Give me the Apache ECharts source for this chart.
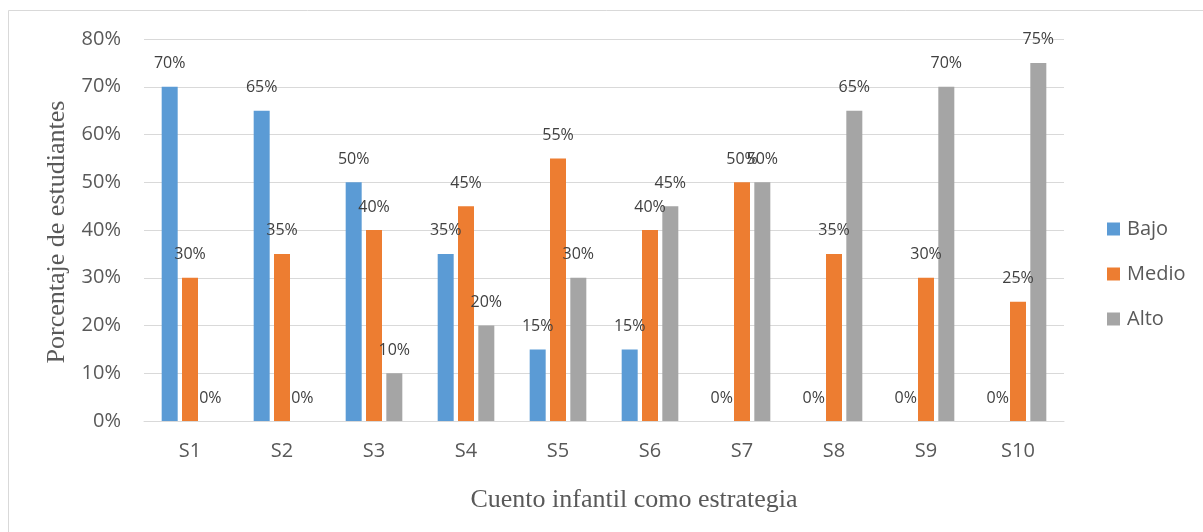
<!DOCTYPE html>
<html>
<head>
<meta charset="utf-8">
<script src="https://cdn.jsdelivr.net/npm/echarts@6/dist/echarts.min.js"></script>
<style>
html,body{margin:0;padding:0;background:#fff;}
#chart{width:1203px;height:532px;}
</style>
</head>
<body>
<div id="chart"></div>
<script>
const categories = ['S1','S2','S3','S4','S5','S6','S7','S8','S9','S10'];
const bajo  = [70, 65, 50, 35, 15, 15, 0, 0, 0, 0];
const medio = [30, 35, 40, 45, 55, 40, 50, 35, 30, 25];
const alto  = [0, 0, 10, 20, 30, 45, 50, 65, 70, 75];
const seriesNames = ['Bajo','Medio','Alto'];
const colors = ['#5B9BD5','#ED7D31','#A5A5A5'];
const yTicks = [0,10,20,30,40,50,60,70,80];
const xTitle = 'Cuento infantil como estrategia';
const yTitle = 'Porcentaje de estudiantes';

const chart = echarts.init(document.getElementById('chart'), null, {renderer:'canvas'});
const sansFont = '"Open Sans", "DejaVu Sans", sans-serif';
const serifFont = '"Liberation Serif", "DejaVu Serif", serif';

function mkSeries(name, data, color){
  return {
    name: name, type: 'bar', data: data,
    barWidth: 16, barGap: '27%',
    itemStyle: {color: color},
    label: {
      show: true, position: 'top', distance: 15,
      formatter: p => p.value + '%',
      fontFamily: sansFont, fontSize: 16, color: '#404040'
    },
    emphasis: {disabled: true}
  };
}

chart.setOption({
  animation: false,
  backgroundColor: '#fff',
  grid: {left: 144, right: 139, top: 39, bottom: 111, containLabel: false},
  legend: {
    orient: 'vertical', left: 1107, top: 219, padding: 0,
    itemWidth: 13, itemHeight: 13, itemGap: 25,
    icon: 'rect',
    data: seriesNames,
    textStyle: {fontFamily: sansFont, fontSize: 20, color: '#595959', lineHeight: 19, padding: [0,0,0,2]}
  },
  xAxis: {
    type: 'category', data: categories,
    axisLine: {lineStyle: {color: '#d9d9d9', width: 1}},
    axisTick: {show: false},
    axisLabel: {fontFamily: sansFont, fontSize: 20, color: '#595959', margin: 20}
  },
  yAxis: {
    type: 'value', min: yTicks[0], max: yTicks[yTicks.length-1], interval: 10,
    axisLine: {show: false}, axisTick: {show: false},
    splitLine: {lineStyle: {color: '#d9d9d9', width: 1}},
    axisLabel: {fontFamily: sansFont, fontSize: 20, color: '#595959', margin: 23, formatter: v => v + '%'}
  },
  graphic: [
    {type: 'rect', shape: {x: 8.5, y: 10.5, width: 1300, height: 600},
     style: {fill: 'none', stroke: '#d9d9d9', lineWidth: 1}, silent: true, z: -10},
    {type: 'text', x: 634, y: 500,
     style: {text: xTitle, font: '26px ' + serifFont, fill: '#595959', textAlign: 'center', textVerticalAlign: 'middle'}},
    {type: 'text', x: 57, y: 232, rotation: Math.PI/2,
     style: {text: yTitle, font: '26px ' + serifFont, fill: '#595959', textAlign: 'center', textVerticalAlign: 'middle'}}
  ],
  series: [
    mkSeries(seriesNames[0], bajo, colors[0]),
    mkSeries(seriesNames[1], medio, colors[1]),
    mkSeries(seriesNames[2], alto, colors[2])
  ]
});
</script>
</body>
</html>
